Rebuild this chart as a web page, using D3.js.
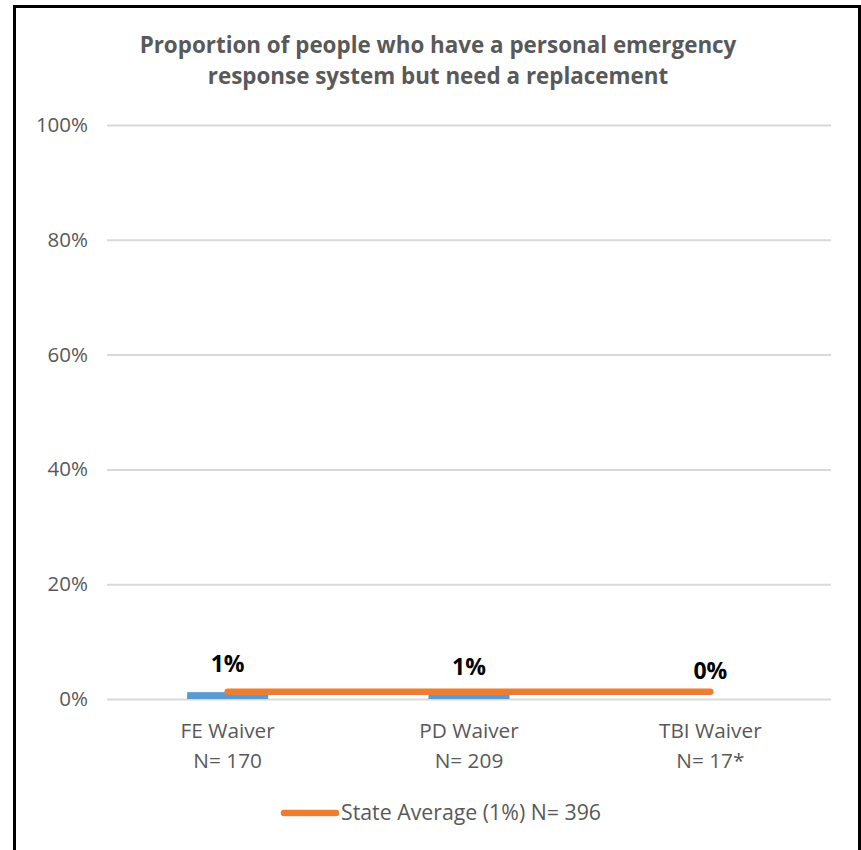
<!DOCTYPE html>
<html><head><meta charset="utf-8">
<script src="https://cdn.jsdelivr.net/npm/d3@7"></script>
<style>body{margin:0;background:#fff}svg{display:block}</style>
</head><body>
<script>
const categories = ["FE Waiver", "PD Waiver", "TBI Waiver"];
const sampleSizes = ["N= 170", "N= 209", "N= 17*"];
const values = [0.012, 0.007, 0.0];
const valueLabels = ["1%", "1%", "0%"];
const stateAverage = [0.0125, 0.0125, 0.0125];
const legendLabel = "State Average (1%) N= 396";
const yTicks = [0, 0.2, 0.4, 0.6, 0.8, 1.0];
const titleLines = ["Proportion of people who have a personal emergency", "response system but need a replacement"];

const W = 861, H = 850;
const font = "'Open Sans', 'Liberation Sans', Arial, sans-serif";
const svg = d3.select("body").append("svg").attr("width", W).attr("height", H);

svg.append("rect").attr("x", 14.5).attr("y", 6.5).attr("width", 845).attr("height", 860)
  .attr("fill", "#fff").attr("stroke", "#000").attr("stroke-width", 3);

const x = d3.scaleBand().domain(categories).range([107, 831]).paddingInner(0.664).paddingOuter(0.332);
const y = d3.scaleLinear().domain([0, 1]).range([699, 125]);

// title
svg.append("text").attr("x", 438).attr("text-anchor", "middle")
  .attr("font-family", font).attr("font-weight", "bold").attr("font-size", 22.4).attr("fill", "#595959")
  .selectAll("tspan").data(titleLines).join("tspan")
  .attr("x", 438).attr("y", (d, i) => 53 + i * 31).text(d => d);

// grid
const yAxis = d3.axisLeft(y).tickValues(yTicks).tickFormat(d3.format(".0%")).tickSize(-(831 - 107)).tickPadding(19);
const gy = svg.append("g").attr("transform", "translate(107,0)").call(yAxis);
gy.select(".domain").remove();
gy.selectAll(".tick line").attr("stroke", "#d9d9d9").attr("stroke-width", 2);
gy.selectAll(".tick text").attr("font-family", font).attr("font-size", 20.5).attr("fill", "#595959");

// bars
svg.append("g").selectAll("rect").data(values).join("rect")
  .attr("x", (d, i) => x(categories[i]))
  .attr("width", x.bandwidth())
  .attr("y", d => y(d))
  .attr("height", d => y(0) - y(d))
  .attr("fill", "#5b9bd5");

// state average line
const cx = (c) => x(c) + x.bandwidth() / 2;
const line = d3.line().x((d, i) => cx(categories[i])).y(d => y(d));
svg.append("path").datum(stateAverage).attr("d", line)
  .attr("fill", "none").attr("stroke", "#ed7d31").attr("stroke-width", 6.5).attr("stroke-linecap", "round");

// value labels
svg.append("g").selectAll("text").data(values).join("text")
  .attr("x", (d, i) => cx(categories[i]))
  .attr("y", d => y(d) - 20)
  .attr("text-anchor", "middle")
  .attr("font-family", font).attr("font-weight", "bold").attr("font-size", 23).attr("fill", "#000")
  .text((d, i) => valueLabels[i]);

// category labels
const cat = svg.append("g").selectAll("text").data(categories).join("text")
  .attr("text-anchor", "middle").attr("font-family", font).attr("font-size", 20.8).attr("fill", "#595959");
cat.append("tspan").attr("x", d => cx(d)).attr("y", 738).text(d => d);
cat.append("tspan").attr("x", d => cx(d)).attr("y", 768).text((d, i) => sampleSizes[i]);

// legend
svg.append("line").attr("x1", 284).attr("x2", 336).attr("y1", 813).attr("y2", 813)
  .attr("stroke", "#ed7d31").attr("stroke-width", 6.5).attr("stroke-linecap", "round");
svg.append("text").attr("x", 341).attr("y", 820).attr("font-family", font).attr("font-size", 21.3)
  .attr("fill", "#595959").text(legendLabel);
</script>
</body></html>
